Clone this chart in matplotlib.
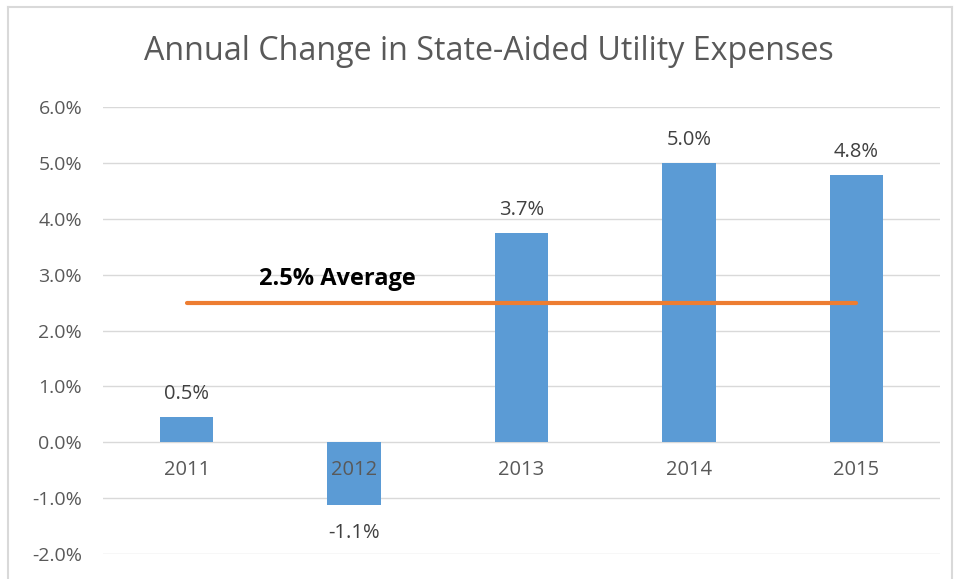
import matplotlib
matplotlib.use("Agg")
import matplotlib.pyplot as plt
from matplotlib.lines import Line2D

years = ["2011", "2012", "2013", "2014", "2015"]
changes = [0.46, -1.12, 3.74, 5.0, 4.78]
value_labels = ["0.5%", "-1.1%", "3.7%", "5.0%", "4.8%"]
average = 2.5
average_label = "2.5% Average"
yticks = [-2, -1, 0, 1, 2, 3, 4, 5, 6]
title = "Annual Change in State-Aided Utility Expenses"

plt.rcParams['font.family'] = ['Open Sans', 'DejaVu Sans']

fig = plt.figure(figsize=(9.58, 5.79), dpi=100)
ax = fig.add_axes([103/958, 1-554/579, (940-103)/958, (554-107)/579])

x = list(range(len(years)))
ax.bar(x, changes, width=0.32, color="#5B9BD5", zorder=3)
ax.plot([x[0], x[-1]], [average, average], color="#ED7D31", lw=3, zorder=4,
        solid_capstyle="round")

ax.set_xlim(-0.5, len(years) - 0.5)
ax.set_ylim(-2, 6)
ax.set_yticks(yticks)
ax.set_yticklabels([f"{v:.1f}%" for v in yticks], color="#595959", fontsize=14)
ax.tick_params(axis="y", length=0, pad=15)
ax.set_xticks([])
ax.grid(axis="y", color="#D9D9D9", lw=1, zorder=0)
for s in ax.spines.values():
    s.set_visible(False)

for xi, v, lab in zip(x, changes, value_labels):
    off = 16.5 if v >= 0 else -20
    ax.annotate(lab, (xi, v), xytext=(0, off), textcoords="offset points",
                ha="center", va="center", fontsize=14.5, color="#404040", zorder=5)
    ax.annotate(years[xi], (xi, 0), xytext=(0, -20), textcoords="offset points",
                ha="center", va="center", fontsize=14.5, color="#595959", zorder=5)

ax.text(0.90, 2.93, average_label, ha="center", va="center", fontsize=17,
        fontweight="bold", color="black", zorder=5)

fig.text(489/958, 1 - 52/579, title, ha="center", va="center", fontsize=23.2,
         color="#595959")

# chart border
for xs, ys in [([8/958, 8/958], [0, 1-7/579]),
               ([8/958, 952/958], [1-7/579, 1-7/579]),
               ([952/958, 952/958], [0, 1-7/579])]:
    fig.add_artist(Line2D(xs, ys, color="#D9D9D9", lw=1.5, transform=fig.transFigure))

fig.savefig("out.png", dpi=100)
